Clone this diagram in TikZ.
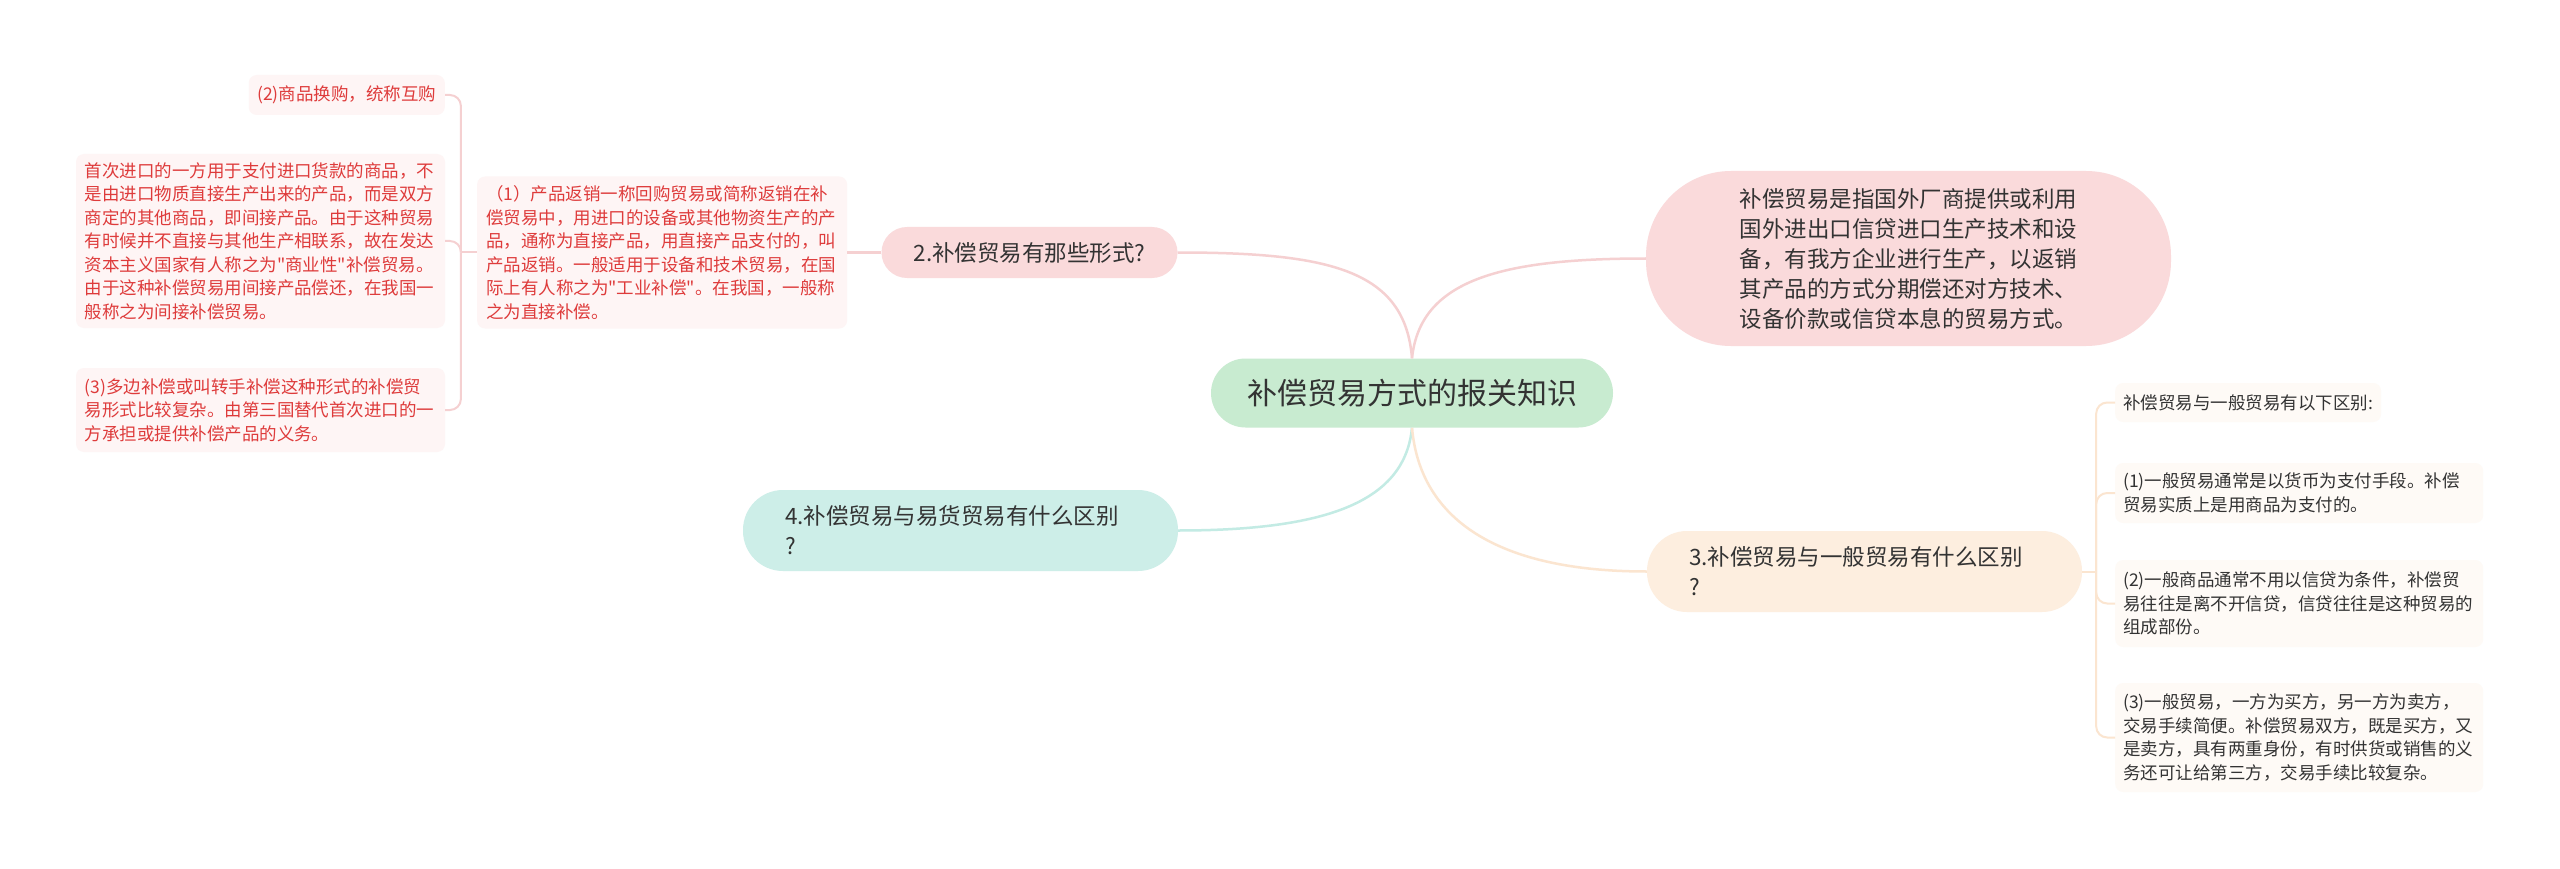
\documentclass[tikz,border=0pt]{standalone}
\usepackage{fontspec}
\setmainfont{Noto Sans CJK SC}[Ligatures=TeXOff]
\usetikzlibrary{positioning,calc}
\definecolor{textdark}{HTML}{333333}
\definecolor{rootfill}{HTML}{C8EBD0}
\definecolor{pinkfill}{HTML}{FADADB}
\definecolor{creamfill}{HTML}{FDEEDF}
\definecolor{mintfill}{HTML}{CDEEE8}
\definecolor{pinkline}{HTML}{F5D0D1}
\definecolor{creamline}{HTML}{FBE5D0}
\definecolor{mintline}{HTML}{C3EBE4}
\definecolor{leafpink}{HTML}{FEF5F5}
\definecolor{leafcream}{HTML}{FEFAF6}
\definecolor{leafred}{HTML}{DE3B3B}

\tikzset{
	roottopic/.style={fill=rootfill, text=textdark, rounded corners=34.5pt, minimum width=402pt, minimum height=69pt, font=\fontsize{30}{36}\selectfont},
	subtopic/.style={text=textdark, align=left, inner ysep=0pt, font=\fontsize{22.5}{30}\selectfont},
	redleaf/.style={fill=leafpink, text=leafred, rounded corners=8pt, align=left, inner xsep=8.5pt, inner ysep=0pt, font=\fontsize{17.5}{23.5}\selectfont},
	darkleaf/.style={fill=leafcream, text=textdark, rounded corners=8pt, align=left, inner xsep=8pt, inner ysep=0pt, font=\fontsize{17.5}{23.5}\selectfont},
	mainbranch/.style={line width=2.5pt, #1},
	subbranch/.style={line width=2pt, rounded corners=11pt, #1},
}

\begin{document}
\begin{tikzpicture}[x=1pt,y=-1pt]
		\fill[white] (0,0) rectangle (2560,869);
		\useasboundingbox (0,0) rectangle (2560,869);
		%
		\node[roottopic] (root) at (1412,393) {补偿贸易方式的报关知识};
		\node[subtopic, fill=pinkfill, align=center, minimum width=296pt, minimum height=51pt, rounded corners=25.5pt] (q2) at (1029.5,252.5) {2.补偿贸易有那些形式?};
		\node[subtopic, fill=pinkfill, text width=338pt, inner xsep=93.5pt, minimum height=175pt, rounded corners=85pt] (q1) at (1908.5,258.5) {补偿贸易是指国外厂商提供或利用\\国外进出口信贷进口生产技术和设\\备，有我方企业进行生产，以返销\\其产品的方式分期偿还对方技术、\\设备价款或信贷本息的贸易方式。};
		\node[subtopic, fill=creamfill, text width=351pt, inner xsep=42pt, minimum height=81pt, rounded corners=40pt] (q3) at (1864.5,571.5) {3.补偿贸易与一般贸易有什么区别\\?};
		\node[subtopic, fill=mintfill, text width=351pt, inner xsep=42pt, minimum height=81pt, rounded corners=40pt] (q4) at (960.5,530.5) {4.补偿贸易与易货贸易有什么区别\\?};
		%
		\node[redleaf, text width=352pt, inner xsep=9pt, minimum height=152pt, left=34pt of q2] (a1) {（1）产品返销一称回购贸易或简称返销在补\\偿贸易中，用进口的设备或其他物资生产的产\\品，通称为直接产品，用直接产品支付的，叫\\产品返销。一般适用于设备和技术贸易，在国\\际上有人称之为"工业补偿"。在我国，一般称\\之为直接补偿。};
		\node[redleaf, anchor=east, minimum height=40pt] (b2) at (445,95) {(2)商品换购，统称互购};
		\node[redleaf, text width=352pt, minimum height=174pt] (b1) at (260.5,241) {首次进口的一方用于支付进口货款的商品，不\\是由进口物质直接生产出来的产品，而是双方\\商定的其他商品，即间接产品。由于这种贸易\\有时候并不直接与其他生产相联系，故在发达\\资本主义国家有人称之为"商业性"补偿贸易。\\由于这种补偿贸易用间接产品偿还，在我国一\\般称之为间接补偿贸易。};
		\node[redleaf, text width=352pt, minimum height=84pt] (b3) at (260.5,410) {(3)多边补偿或叫转手补偿这种形式的补偿贸\\易形式比较复杂。由第三国替代首次进口的一\\方承担或提供补偿产品的义务。};
		%
		\node[darkleaf, anchor=west, minimum height=39pt] (r0) at (2115,402.5) {补偿贸易与一般贸易有以下区别:};
		\node[darkleaf, anchor=west, text width=352pt, minimum height=60pt] (r1) at (2115,493) {(1)一般贸易通常是以货币为支付手段。补偿\\贸易实质上是用商品为支付的。};
		\node[darkleaf, anchor=west, text width=352pt, minimum height=87pt] (r2) at (2115,603.5) {(2)一般商品通常不用以信贷为条件，补偿贸\\易往往是离不开信贷，信贷往往是这种贸易的\\组成部份。};
		\node[darkleaf, anchor=west, text width=352pt, minimum height=109pt] (r3) at (2115,737.5) {(3)一般贸易，一方为买方，另一方为卖方，\\交易手续简便。补偿贸易双方，既是买方，又\\是卖方，具有两重身份，有时供货或销售的义\\务还可让给第三方，交易手续比较复杂。};
		%
		\coordinate (ja) at ($(a1.west)+(-16,0)$);
		\coordinate (jc) at ($(q3.east)+(14,0)$);
		%
		\draw[mainbranch=pinkline] (root.north) .. controls +(-7,-88) and +(153,0) .. (q2.east);
		\draw[mainbranch=pinkline] (root.north) .. controls +(8,-78) and +(-146,0) .. (q1.west);
		\draw[mainbranch=mintline] (root.south) .. controls +(-7,72) and +(153,0) .. (q4.east);
		\draw[mainbranch=creamline] (root.south) .. controls +(8,92) and +(-149,0) .. (q3.west);
		\draw[mainbranch=pinkline] (q2.west) -- (a1.east);
		\draw[subbranch=pinkline] (a1.west) -- (ja);
		\draw[subbranch=creamline] (q3.east) -- (jc);
		\foreach \leaf in {b2,b1,b3}
			\draw[subbranch=pinkline] (ja) |- (\leaf.east);
		\foreach \leaf in {r0,r1,r2,r3}
			\draw[subbranch=creamline] (jc) |- (\leaf.west);
\end{tikzpicture}
\end{document}
